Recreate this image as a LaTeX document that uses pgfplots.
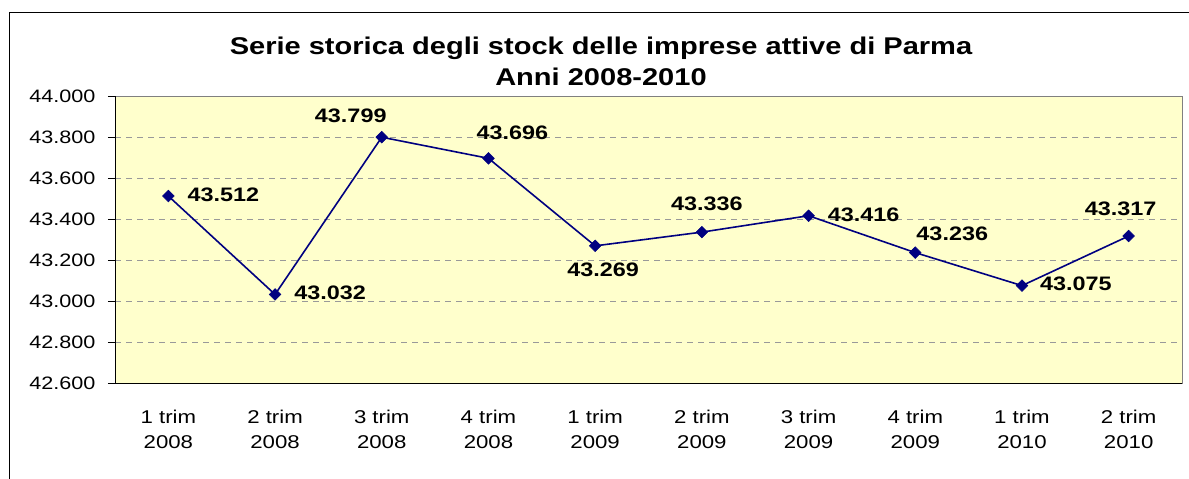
\documentclass[border=0pt]{standalone}
\usepackage{pgfplots}
\pgfplotsset{compat=1.18}
\usepackage{pgfplotstable}
\usepackage{fontspec}
\setmainfont{Liberation Sans}[FakeStretch=1.2]
\definecolor{plotbg}{HTML}{FFFFCC}
\definecolor{navy}{HTML}{000080}
\definecolor{gridgray}{HTML}{999999}
\definecolor{framegray}{HTML}{808080}
\pgfplotstableread{
x y dx dy
0 43512 55 1
1 43032 55 2
2 43799 -31 21
3 43696 24 25.5
4 43269 8 -24
5 43336 5 28.7
6 43416 55 1
7 43236 37 19.3
8 43075 54 2
9 43317 -8 27.7
}\datatable
\begin{document}
\begin{tikzpicture}
\path[use as bounding box] (0,0) rectangle (1189bp,-479bp);
\draw[black, line width=1bp] (9.5bp,-479bp) -- (9.5bp,-12.5bp) -- (1189bp,-12.5bp);
\node[anchor=base, font=\bfseries\fontsize{24.2bp}{31bp}\selectfont] at (601bp,-54bp) {Serie storica degli stock delle imprese attive di Parma};
\node[anchor=base, font=\bfseries\fontsize{24.2bp}{31bp}\selectfont] at (601bp,-85bp) {Anni 2008-2010};
\begin{axis}[
  at={(115bp,-383bp)}, anchor=south west,
  scale only axis, width=1067bp, height=287bp,
  xmin=-0.5, xmax=9.5, ymin=42600, ymax=44000,
  axis background/.style={fill=plotbg},
  axis line style={framegray, line width=1bp},
  scaled y ticks=false,
  ytick={42600,42800,...,44000},
  xtick={0,...,9},
  xticklabels={{1 trim\\2008},{2 trim\\2008},{3 trim\\2008},{4 trim\\2008},{1 trim\\2009},{2 trim\\2009},{3 trim\\2009},{4 trim\\2009},{1 trim\\2010},{2 trim\\2010}},
  xticklabel style={align=center, anchor=north, yshift=-17bp, font=\fontsize{18.5bp}{25bp}\selectfont},
  yticklabel style={anchor=east, xshift=-9bp, font=\fontsize{18bp}{20bp}\selectfont},
  /pgf/number format/.cd, 1000 sep={.}, fixed, precision=0, assume math mode=true,
  /pgfplots/.cd,
  tick align=outside, tick pos=left,
  major tick length=7bp,
  x tick style={draw=none},
  y tick style={black, line width=1bp},
  extra x ticks={-0.5,0.5,...,9.5},
  extra x tick labels={},
  extra x tick style={tick style={black, line width=1bp}, major tick length=7bp, grid=none},
  ymajorgrids,
  grid style={gridgray, line width=1bp, dash pattern=on 6bp off 5bp},
  clip=false,
  after end axis/.code={
    \draw[black, line width=1bp] (rel axis cs:0,1) -- (rel axis cs:0,0) -- (rel axis cs:1,0);
  },
]
\addplot[navy, line width=1.6bp, mark=square*, mark size=4.1bp,
  mark options={rotate=45, fill=navy, draw=navy, line width=0.6bp},
  point meta=explicit,
  visualization depends on={\thisrow{dx}\as\dx},
  visualization depends on={\thisrow{dy}\as\dy},
  nodes near coords={\pgfmathprintnumber[1000 sep={.},fixed,precision=0,assume math mode=true]{\pgfplotspointmeta}},
  nodes near coords style={anchor=center, black, font=\bfseries\fontsize{19.5bp}{22bp}\selectfont, xshift=\dx bp, yshift=\dy bp, inner sep=0pt},
] table[x=x, y=y, meta=y] {\datatable};
\end{axis}
\end{tikzpicture}
\end{document}
